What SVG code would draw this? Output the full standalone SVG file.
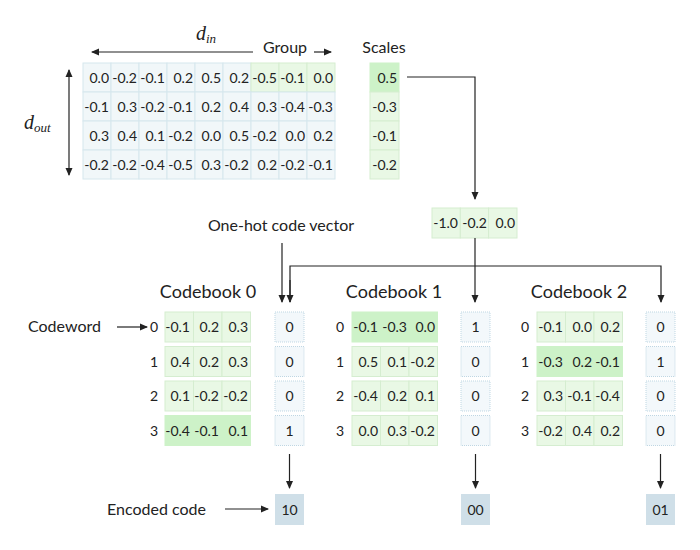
<svg xmlns="http://www.w3.org/2000/svg" width="700" height="550" viewBox="0 0 700 550">
<defs>
<marker id="ah" markerWidth="8" markerHeight="8" refX="7" refY="4" orient="auto" markerUnits="userSpaceOnUse">
<path d="M0,0.5 L8,4 L0,7.5 z" fill="#222"/>
</marker>
<marker id="ahs" markerWidth="8" markerHeight="8" refX="7" refY="4" orient="auto-start-reverse" markerUnits="userSpaceOnUse">
<path d="M0,0.5 L8,4 L0,7.5 z" fill="#222"/>
</marker>
<style>
.t{font-family:Lato,"Open Sans",sans-serif;fill:#222}
.num{font-family:Lato,"Open Sans",sans-serif;font-size:14px;fill:#222;text-anchor:end}
.ctr{text-anchor:middle}
.lbl{font-family:Lato,"Open Sans",sans-serif;font-size:16px;fill:#222}
.ttl{font-family:Lato,"Open Sans",sans-serif;font-size:18px;fill:#222;text-anchor:middle}
.m{font-family:"Liberation Serif",serif;font-style:italic;fill:#222}
.cb{fill:#f1f7f9;stroke:#d6e7ed;stroke-width:1}
.cg{fill:#e9f8e5;stroke:#d5edd0;stroke-width:1}
.cs{fill:#cdf2c8;stroke:#cdf2c8;stroke-width:1}
.oh{fill:#f3f8fb;stroke:#bfd7e3;stroke-width:1;stroke-dasharray:1 1}
.enc{fill:#cfdfe8}
.ln{fill:none;stroke:#222;stroke-width:1.2}
</style>
</defs>
<rect width="700" height="550" fill="#fff"/>

<g id="weight-matrix">
<g>
<rect class="cb" x="83" y="63" width="28" height="29"/><rect class="cb" x="111" y="63" width="28" height="29"/><rect class="cb" x="139" y="63" width="28" height="29"/><rect class="cb" x="167" y="63" width="28" height="29"/><rect class="cb" x="195" y="63" width="28" height="29"/><rect class="cb" x="223" y="63" width="28" height="29"/><rect class="cg" x="251" y="63" width="28" height="29"/><rect class="cg" x="279" y="63" width="28" height="29"/><rect class="cg" x="307" y="63" width="28" height="29"/>
<rect class="cb" x="83" y="92" width="28" height="29"/><rect class="cb" x="111" y="92" width="28" height="29"/><rect class="cb" x="139" y="92" width="28" height="29"/><rect class="cb" x="167" y="92" width="28" height="29"/><rect class="cb" x="195" y="92" width="28" height="29"/><rect class="cb" x="223" y="92" width="28" height="29"/><rect class="cb" x="251" y="92" width="28" height="29"/><rect class="cb" x="279" y="92" width="28" height="29"/><rect class="cb" x="307" y="92" width="28" height="29"/>
<rect class="cb" x="83" y="121" width="28" height="29"/><rect class="cb" x="111" y="121" width="28" height="29"/><rect class="cb" x="139" y="121" width="28" height="29"/><rect class="cb" x="167" y="121" width="28" height="29"/><rect class="cb" x="195" y="121" width="28" height="29"/><rect class="cb" x="223" y="121" width="28" height="29"/><rect class="cb" x="251" y="121" width="28" height="29"/><rect class="cb" x="279" y="121" width="28" height="29"/><rect class="cb" x="307" y="121" width="28" height="29"/>
<rect class="cb" x="83" y="150" width="28" height="29"/><rect class="cb" x="111" y="150" width="28" height="29"/><rect class="cb" x="139" y="150" width="28" height="29"/><rect class="cb" x="167" y="150" width="28" height="29"/><rect class="cb" x="195" y="150" width="28" height="29"/><rect class="cb" x="223" y="150" width="28" height="29"/><rect class="cb" x="251" y="150" width="28" height="29"/><rect class="cb" x="279" y="150" width="28" height="29"/><rect class="cb" x="307" y="150" width="28" height="29"/>
</g>
<g>
<text class="num" x="109" y="83">0.0</text><text class="num" x="137" y="83">-0.2</text><text class="num" x="165" y="83">-0.1</text><text class="num" x="193" y="83">0.2</text><text class="num" x="221" y="83">0.5</text><text class="num" x="249" y="83">0.2</text><text class="num" x="277" y="83">-0.5</text><text class="num" x="305" y="83">-0.1</text><text class="num" x="333" y="83">0.0</text>
<text class="num" x="109" y="112">-0.1</text><text class="num" x="137" y="112">0.3</text><text class="num" x="165" y="112">-0.2</text><text class="num" x="193" y="112">-0.1</text><text class="num" x="221" y="112">0.2</text><text class="num" x="249" y="112">0.4</text><text class="num" x="277" y="112">0.3</text><text class="num" x="305" y="112">-0.4</text><text class="num" x="333" y="112">-0.3</text>
<text class="num" x="109" y="141">0.3</text><text class="num" x="137" y="141">0.4</text><text class="num" x="165" y="141">0.1</text><text class="num" x="193" y="141">-0.2</text><text class="num" x="221" y="141">0.0</text><text class="num" x="249" y="141">0.5</text><text class="num" x="277" y="141">-0.2</text><text class="num" x="305" y="141">0.0</text><text class="num" x="333" y="141">0.2</text>
<text class="num" x="109" y="170">-0.2</text><text class="num" x="137" y="170">-0.2</text><text class="num" x="165" y="170">-0.4</text><text class="num" x="193" y="170">-0.5</text><text class="num" x="221" y="170">0.3</text><text class="num" x="249" y="170">-0.2</text><text class="num" x="277" y="170">0.2</text><text class="num" x="305" y="170">-0.2</text><text class="num" x="333" y="170">-0.1</text>
</g>
<text class="m" x="196" y="40" font-size="20">d<tspan font-size="13" dy="3">in</tspan></text>
<text class="m" x="24" y="129" font-size="20">d<tspan font-size="13" dy="3">out</tspan></text>
<text class="lbl" x="263" y="53">Group</text>
</g>

<g id="scales">
<text class="t" x="384" y="53" font-size="16" text-anchor="middle">Scales</text>
<rect class="cs" x="370" y="63" width="29" height="29"/>
<rect class="cg" x="370" y="92" width="29" height="29"/>
<rect class="cg" x="370" y="121" width="29" height="29"/>
<rect class="cg" x="370" y="150" width="29" height="29"/>
<text class="num" x="397" y="83">0.5</text>
<text class="num" x="397" y="112">-0.3</text>
<text class="num" x="397" y="141">-0.1</text>
<text class="num" x="397" y="170">-0.2</text>
</g>

<g id="scaled-vector">
<rect class="cg" x="432" y="208" width="28.3" height="30"/>
<rect class="cg" x="460.3" y="208" width="28.3" height="30"/>
<rect class="cg" x="488.6" y="208" width="28.4" height="30"/>
<text class="num" x="458" y="228">-1.0</text>
<text class="num" x="487" y="228">-0.2</text>
<text class="num" x="515" y="228">0.0</text>
</g>

<g id="labels">
<text class="lbl" x="281" y="231" text-anchor="middle" font-size="15.5">One-hot code vector</text>
<text class="lbl" x="28" y="332">Codeword</text>
<text class="lbl" x="107" y="515">Encoded code</text>
</g>

<g id="codebook-0">
<text class="ttl" x="208" y="298">Codebook 0</text>
<rect class="cg" x="165" y="312" width="28.5" height="30"/><rect class="cg" x="193.5" y="312" width="28.5" height="30"/><rect class="cg" x="222" y="312" width="28.5" height="30"/>
<rect class="cg" x="165" y="346.5" width="28.5" height="30"/><rect class="cg" x="193.5" y="346.5" width="28.5" height="30"/><rect class="cg" x="222" y="346.5" width="28.5" height="30"/>
<rect class="cg" x="165" y="381" width="28.5" height="30"/><rect class="cg" x="193.5" y="381" width="28.5" height="30"/><rect class="cg" x="222" y="381" width="28.5" height="30"/>
<rect class="cs" x="165" y="415.5" width="85.5" height="30"/>
<text class="t ctr" x="154" y="332" font-size="14">0</text><text class="t ctr" x="154" y="366.5" font-size="14">1</text><text class="t ctr" x="154" y="401" font-size="14">2</text><text class="t ctr" x="154" y="435.5" font-size="14">3</text>
<text class="num" x="190" y="332">-0.1</text><text class="num" x="219" y="332">0.2</text><text class="num" x="248" y="332">0.3</text>
<text class="num" x="190" y="366.5">0.4</text><text class="num" x="219" y="366.5">0.2</text><text class="num" x="248" y="366.5">0.3</text>
<text class="num" x="190" y="401">0.1</text><text class="num" x="219" y="401">-0.2</text><text class="num" x="248" y="401">-0.2</text>
<text class="num" x="190" y="435.5">-0.4</text><text class="num" x="219" y="435.5">-0.1</text><text class="num" x="248" y="435.5">0.1</text>
<rect class="oh" x="275" y="312" width="29" height="30"/><rect class="oh" x="275" y="346.5" width="29" height="30"/><rect class="oh" x="275" y="381" width="29" height="30"/><rect class="oh" x="275" y="415.5" width="29" height="30"/>
<text class="t ctr" x="289.5" y="332" font-size="14">0</text><text class="t ctr" x="289.5" y="366.5" font-size="14">0</text><text class="t ctr" x="289.5" y="401" font-size="14">0</text><text class="t ctr" x="289.5" y="435.5" font-size="14">1</text>
</g>

<g id="codebook-1">
<text class="ttl" x="394" y="298">Codebook 1</text>
<rect class="cs" x="352" y="312" width="85.5" height="30"/>
<rect class="cg" x="352" y="346.5" width="28.5" height="30"/><rect class="cg" x="380.5" y="346.5" width="28.5" height="30"/><rect class="cg" x="409" y="346.5" width="28.5" height="30"/>
<rect class="cg" x="352" y="381" width="28.5" height="30"/><rect class="cg" x="380.5" y="381" width="28.5" height="30"/><rect class="cg" x="409" y="381" width="28.5" height="30"/>
<rect class="cg" x="352" y="415.5" width="28.5" height="30"/><rect class="cg" x="380.5" y="415.5" width="28.5" height="30"/><rect class="cg" x="409" y="415.5" width="28.5" height="30"/>
<text class="t ctr" x="340" y="332" font-size="14">0</text><text class="t ctr" x="340" y="366.5" font-size="14">1</text><text class="t ctr" x="340" y="401" font-size="14">2</text><text class="t ctr" x="340" y="435.5" font-size="14">3</text>
<text class="num" x="378" y="332">-0.1</text><text class="num" x="407" y="332">-0.3</text><text class="num" x="435" y="332">0.0</text>
<text class="num" x="378" y="366.5">0.5</text><text class="num" x="407" y="366.5">0.1</text><text class="num" x="435" y="366.5">-0.2</text>
<text class="num" x="378" y="401">-0.4</text><text class="num" x="407" y="401">0.2</text><text class="num" x="435" y="401">0.1</text>
<text class="num" x="378" y="435.5">0.0</text><text class="num" x="407" y="435.5">0.3</text><text class="num" x="435" y="435.5">-0.2</text>
<rect class="oh" x="461" y="312" width="29" height="30"/><rect class="oh" x="461" y="346.5" width="29" height="30"/><rect class="oh" x="461" y="381" width="29" height="30"/><rect class="oh" x="461" y="415.5" width="29" height="30"/>
<text class="t ctr" x="475.5" y="332" font-size="14">1</text><text class="t ctr" x="475.5" y="366.5" font-size="14">0</text><text class="t ctr" x="475.5" y="401" font-size="14">0</text><text class="t ctr" x="475.5" y="435.5" font-size="14">0</text>
</g>

<g id="codebook-2">
<text class="ttl" x="579" y="298">Codebook 2</text>
<rect class="cg" x="537" y="312" width="28.5" height="30"/><rect class="cg" x="565.5" y="312" width="28.5" height="30"/><rect class="cg" x="594" y="312" width="28.5" height="30"/>
<rect class="cs" x="537" y="346.5" width="85.5" height="30"/>
<rect class="cg" x="537" y="381" width="28.5" height="30"/><rect class="cg" x="565.5" y="381" width="28.5" height="30"/><rect class="cg" x="594" y="381" width="28.5" height="30"/>
<rect class="cg" x="537" y="415.5" width="28.5" height="30"/><rect class="cg" x="565.5" y="415.5" width="28.5" height="30"/><rect class="cg" x="594" y="415.5" width="28.5" height="30"/>
<text class="t ctr" x="525" y="332" font-size="14">0</text><text class="t ctr" x="525" y="366.5" font-size="14">1</text><text class="t ctr" x="525" y="401" font-size="14">2</text><text class="t ctr" x="525" y="435.5" font-size="14">3</text>
<text class="num" x="563" y="332">-0.1</text><text class="num" x="592" y="332">0.0</text><text class="num" x="620" y="332">0.2</text>
<text class="num" x="563" y="366.5">-0.3</text><text class="num" x="592" y="366.5">0.2</text><text class="num" x="620" y="366.5">-0.1</text>
<text class="num" x="563" y="401">0.3</text><text class="num" x="592" y="401">-0.1</text><text class="num" x="620" y="401">-0.4</text>
<text class="num" x="563" y="435.5">-0.2</text><text class="num" x="592" y="435.5">0.4</text><text class="num" x="620" y="435.5">0.2</text>
<rect class="oh" x="646" y="312" width="29" height="30"/><rect class="oh" x="646" y="346.5" width="29" height="30"/><rect class="oh" x="646" y="381" width="29" height="30"/><rect class="oh" x="646" y="415.5" width="29" height="30"/>
<text class="t ctr" x="660.5" y="332" font-size="14">0</text><text class="t ctr" x="660.5" y="366.5" font-size="14">1</text><text class="t ctr" x="660.5" y="401" font-size="14">0</text><text class="t ctr" x="660.5" y="435.5" font-size="14">0</text>
</g>

<g id="encoded-codes">
<rect class="enc" x="275" y="494" width="29" height="31"/>
<rect class="enc" x="461" y="494" width="29" height="31"/>
<rect class="enc" x="646" y="494" width="29" height="31"/>
<text class="t ctr" x="289.5" y="515" font-size="14">10</text>
<text class="t ctr" x="475.5" y="515" font-size="14">00</text>
<text class="t ctr" x="660.5" y="515" font-size="14">01</text>
</g>

<g id="connectors">
<line class="ln" x1="253" y1="52" x2="92" y2="52" marker-end="url(#ah)"/>
<line class="ln" x1="314" y1="52" x2="331" y2="52" marker-end="url(#ah)"/>
<line class="ln" x1="69" y1="70" x2="69" y2="175" marker-start="url(#ahs)" marker-end="url(#ahs)"/>
<polyline class="ln" points="407,77 475,77 475,199" marker-end="url(#ah)"/>
<line class="ln" x1="475" y1="238" x2="475" y2="302" marker-end="url(#ah)"/>
<polyline class="ln" points="290,302 290,266 661,266 661,302" marker-end="url(#ah)"/>
<line class="ln" x1="290" y1="280" x2="290" y2="302" marker-end="url(#ah)"/>
<line class="ln" x1="282" y1="243" x2="282" y2="302" marker-end="url(#ah)"/>
<line class="ln" x1="117" y1="327" x2="147" y2="327" marker-end="url(#ah)"/>
<line class="ln" x1="225" y1="509" x2="268" y2="509" marker-end="url(#ah)"/>
<line class="ln" x1="289.5" y1="454" x2="289.5" y2="488" marker-end="url(#ah)"/>
<line class="ln" x1="475.5" y1="454" x2="475.5" y2="488" marker-end="url(#ah)"/>
<line class="ln" x1="660.5" y1="454" x2="660.5" y2="488" marker-end="url(#ah)"/>
</g>
</svg>
